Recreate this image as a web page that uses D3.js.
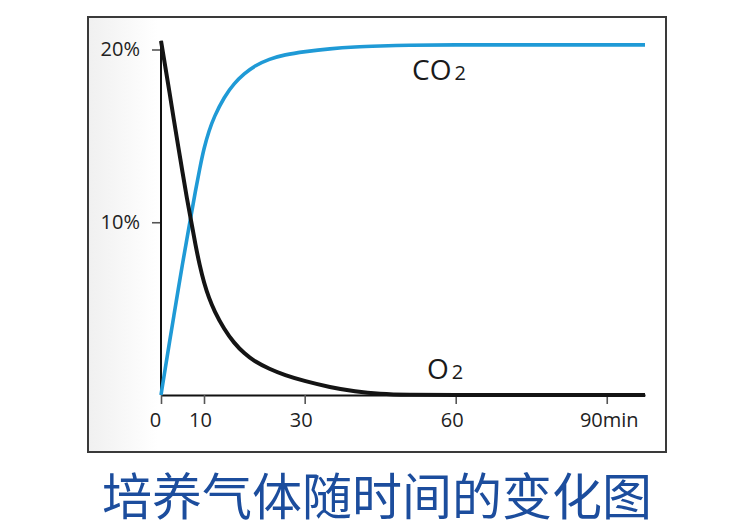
<!DOCTYPE html>
<html>
<head>
<meta charset="utf-8">
<script src="https://cdn.jsdelivr.net/npm/d3@7/dist/d3.min.js"></script>
<style>
  html, body { margin: 0; padding: 0; background: #ffffff; }
  svg { display: block; }
</style>
</head>
<body>
<svg id="chart" width="750" height="531"></svg>
<script>
// ---- data ----
const time = [0, 1, 2, 3, 4, 5, 6, 7, 8, 9, 10, 11, 12, 14, 16, 18, 20, 23, 26, 30, 35, 40, 45, 50, 60, 70, 80, 90, 97.6];
const o2Values = [20.5, 19.0, 17.5, 15.9, 14.4, 12.9, 11.4, 10.1, 8.7, 7.5, 6.5, 5.6, 4.9, 3.8, 3.0, 2.4, 1.95, 1.5, 1.15, 0.8, 0.45, 0.2, 0.05, 0, 0, 0, 0, 0, 0];
const co2Values = [0, 1.55, 3.1, 4.6, 6.1, 7.6, 9.0, 10.4, 11.8, 13.1, 14.3, 15.3, 16.1, 17.25, 18.05, 18.6, 19.05, 19.45, 19.7, 19.88, 20.05, 20.15, 20.2, 20.25, 20.27, 20.27, 20.27, 20.27, 20.27];
const xTickValues = [0, 10, 30, 60, 90];
const xTickLabels = ["0", "10", "30", "60", "90min"];
const yTickValues = [10, 20];
const yTickLabels = ["10%", "20%"];
const seriesNames = ["CO", "O"];
const title = "培养气体随时间的变化图";

// ---- layout ----
const svg = d3.select("#chart");
const defs = svg.append("defs");
const grad = defs.append("linearGradient").attr("id", "bg").attr("x1", "0").attr("x2", "1").attr("y1", "0").attr("y2", "0");
grad.append("stop").attr("offset", "0").attr("stop-color", "#f0f0f0");
grad.append("stop").attr("offset", "0.12").attr("stop-color", "#ffffff");
grad.append("stop").attr("offset", "1").attr("stop-color", "#ffffff");

svg.append("rect")
  .attr("x", 88).attr("y", 17).attr("width", 578).attr("height", 435)
  .attr("fill", "url(#bg)")
  .attr("stroke", "#3a3a3a").attr("stroke-width", 2);

// piecewise x scale (the first interval is drawn compressed in the original)
const x = d3.scaleLinear().domain([0, 10, 97.6]).range([161, 204, 645]);
const y = d3.scaleLinear().domain([0, 20]).range([395, 49.5]);

const font = "'Open Sans', 'Liberation Sans', Arial, sans-serif";

// x axis
const xAxis = d3.axisBottom(x)
  .tickValues(xTickValues)
  .tickFormat((d, i) => xTickLabels[i])
  .tickSize(9).tickSizeOuter(0).tickPadding(9);
const gx = svg.append("g").attr("transform", `translate(0,${y(0)})`).call(xAxis);
gx.select(".domain").attr("stroke", "#111").attr("stroke-width", 2.2);
gx.selectAll(".tick line").attr("stroke", "#555").attr("stroke-width", 1.6);
gx.selectAll(".tick text")
  .attr("font-family", font).attr("font-size", 20).attr("fill", "#222")
  .attr("dx", (d, i) => i === xTickValues.length - 1 ? 2 : (i === 0 ? -6 : -4));

// y axis
const yAxis = d3.axisLeft(y)
  .tickValues(yTickValues)
  .tickFormat((d, i) => yTickLabels[i])
  .tickSize(9).tickSizeOuter(0).tickPadding(12);
const gy = svg.append("g").attr("transform", `translate(${x(0)},0)`).call(yAxis);
gy.select(".domain").remove();
gy.append("line")
  .attr("x1", 0).attr("x2", 0).attr("y1", y(0)).attr("y2", y(20.5))
  .attr("stroke", "#111").attr("stroke-width", 2);
gy.selectAll(".tick line").attr("stroke", "#555").attr("stroke-width", 1.6);
gy.selectAll(".tick text")
  .attr("font-family", font).attr("font-size", 20).attr("fill", "#222");

// lines
const line = (vals) => d3.line()
  .x((d, i) => x(time[i]))
  .y((d) => y(d))
  .curve(d3.curveBasis)(vals);

svg.append("path").attr("d", line(co2Values))
  .attr("fill", "none").attr("stroke", "#1f9ad6").attr("stroke-width", 3.6)
  .attr("stroke-linejoin", "round");
svg.append("path").attr("d", line(o2Values))
  .attr("fill", "none").attr("stroke", "#141414").attr("stroke-width", 4)
  .attr("stroke-linejoin", "round");

// series labels
function seriesLabel(px, py, name) {
  const t = svg.append("text")
    .attr("x", px).attr("y", py)
    .attr("font-family", font).attr("fill", "#1a1a1a");
  t.append("tspan").attr("font-size", 28).text(name);
  t.append("tspan").attr("font-size", 20).attr("dx", 3).text("2");
}
seriesLabel(412, 80, seriesNames[0]);
seriesLabel(427, 379, seriesNames[1]);

// title
svg.append("text")
  .attr("x", 377).attr("y", 515)
  .attr("text-anchor", "middle")
  .attr("font-family", "'Noto Sans CJK SC', sans-serif")
  .attr("font-size", 50)
  .attr("fill", "#1c4d9d")
  .text(title);
</script>
</body>
</html>
